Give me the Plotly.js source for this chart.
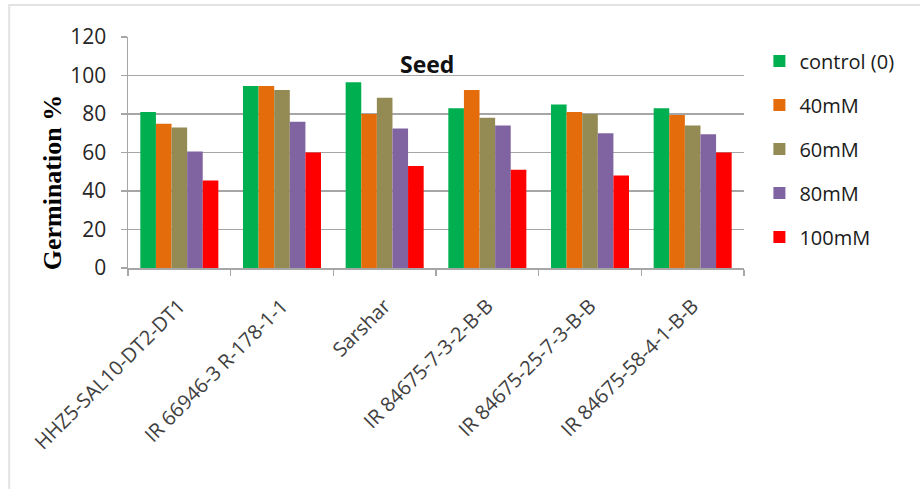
<!DOCTYPE html>
<html>
<head>
<meta charset="utf-8">
<script src="https://cdn.plot.ly/plotly-3.0.1.min.js"></script>
<style>html,body{margin:0;padding:0;background:#fff;}#chart{width:920px;height:489px;}</style>
</head>
<body>
<div id="chart"></div>
<script>
const categories = ["HHZ5-SAL10-DT2-DT1", "IR 66946-3 R-178-1-1", "Sarshar", "IR 84675-7-3-2-B-B", "IR 84675-25-7-3-B-B", "IR 84675-58-4-1-B-B"];
const seriesNames = ["control (0)", "40mM", "60mM", "80mM", "100mM"];
const control0 = [81, 94.5, 96.5, 83, 85, 83];
const mM40 = [75, 94.5, 80, 92.5, 81, 79.5];
const mM60 = [73, 92.5, 88.5, 78, 80, 74];
const mM80 = [60.5, 76, 72.5, 74, 70, 69.5];
const mM100 = [45.5, 60, 53, 51, 48, 60];
const colors = ["#00b050", "#e46c0a", "#948a54", "#8064a2", "#ff0000"];

const seriesValues = [control0, mM40, mM60, mM80, mM100];
const traces = seriesValues.map((vals, i) => ({
  type: "bar",
  name: seriesNames[i],
  x: categories,
  y: vals,
  marker: {color: colors[i]},
  legendgroup: "g" + i
}));

const layout = {
  width: 920, height: 489,
  margin: {l: 128, r: 176, t: 37, b: 221},
  paper_bgcolor: "#fff", plot_bgcolor: "#fff",
  barmode: "group", bargap: 0.24, bargroupgap: 0,
  showlegend: true,
  legend: {x: 1.025, xanchor: "left", y: 0.98, yanchor: "top",
    font: {family: "Open Sans, DejaVu Sans, sans-serif", size: 20, color: "#1a1a1a"},
    tracegroupgap: 15, itemwidth: 30, traceorder: "grouped"},
  xaxis: {
    type: "category",
    showline: true, linecolor: "#a6a6a6", linewidth: 1.5,
    ticks: "outside", tickson: "boundaries", ticklen: 6, tickcolor: "#a6a6a6", tickwidth: 1.5,
    tickangle: -45,
    tickfont: {family: "Open Sans, DejaVu Sans, sans-serif", size: 20, color: "#404040"},
    ticklabelstandoff: 17,
    showgrid: false
  },
  yaxis: {
    range: [0, 120], dtick: 20,
    showline: true, linecolor: "#a6a6a6", linewidth: 1.5,
    ticks: "outside", ticklen: 6, tickcolor: "#a6a6a6", tickwidth: 1.5,
    gridcolor: "#a6a6a6", gridwidth: 1.5,
    zeroline: false,
    tickfont: {family: "Open Sans, DejaVu Sans, sans-serif", size: 21, color: "#262626"},
    ticklabelstandoff: 10
  },
  annotations: [
    {text: "<b>Seed</b>", xref: "paper", yref: "paper", x: 0.486, y: 0.883, xanchor: "center", yanchor: "middle",
     showarrow: false, font: {family: "Open Sans, DejaVu Sans, sans-serif", size: 23, color: "#111"}},
    {text: "<b>Germination %</b>", xref: "paper", yref: "paper", x: -0.123, y: 0.372, xanchor: "center", yanchor: "middle",
     textangle: -90, showarrow: false, font: {family: "Liberation Serif, Times New Roman, serif", size: 26, color: "#000"}}
  ],
  shapes: [
    {type: "rect", xref: "paper", yref: "paper", x0: -0.1929, x1: 1.4, y0: -1.3, y1: 1.1385,
     line: {color: "#e3e3e3", width: 2}, fillcolor: "rgba(0,0,0,0)", layer: "below"}
  ]
};

Plotly.newPlot("chart", traces, layout, {displayModeBar: false, staticPlot: true});
</script>
</body>
</html>
